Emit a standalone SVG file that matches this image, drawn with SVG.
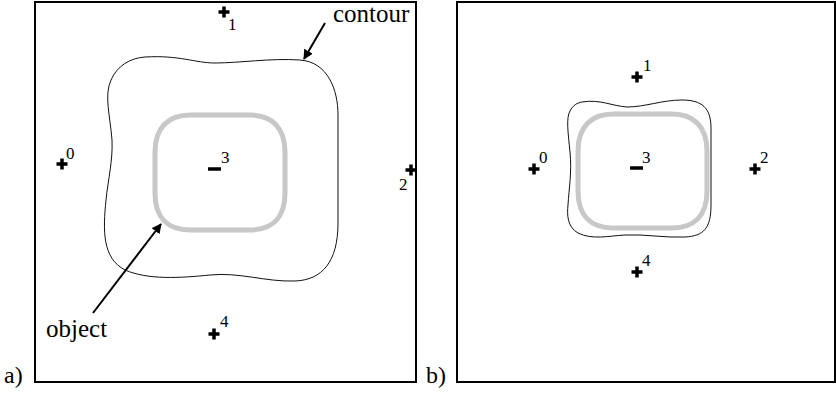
<svg xmlns="http://www.w3.org/2000/svg" width="836" height="393" viewBox="0 0 836 393">
<style>
.frame{fill:none;stroke:#000;stroke-width:2}
.contour{fill:none;stroke:#111;stroke-width:1}
.object{fill:none;stroke:#c8c8c8;stroke-width:5}
.pt{stroke:#000;stroke-width:3.5;fill:none}
.arrow{stroke:#000;stroke-width:2;fill:none}
</style>
<defs>
<marker id="ah" viewBox="0 0 10 10" refX="9" refY="5" markerWidth="5" markerHeight="5" orient="auto" markerUnits="strokeWidth">
<path d="M0,0 L10,5 L0,10 Z" fill="#000"/>
</marker>
<path id="plus" d="M-5.5,0 H5.5 M0,-5.5 V5.5"/>
</defs>
<rect width="836" height="393" fill="#fff"/>
<g font-family="'Liberation Serif', 'DejaVu Serif', 'Times New Roman', serif" fill="#000">
<g id="panel-a">
<rect class="frame" x="35" y="2" width="381" height="380"/>
<text font-size="24" x="4" y="383">a)</text>
<path id="contour-a" class="contour" d="M145,57 C180,55 195,63 215,63 C240,63 270,58 300,60 C328,62 338,90 338,115 L338,223 C338,262 322,280 295,281 C265,282 240,272 210,275 C180,278 148,280 125,270 C102,258 103,230 106,200 C108,180 113,160 112,140 C110,115 104,95 111,80 C117,66 130,58 145,57 Z"/>
<path id="object-a" class="object" d="M190,115 L250,115 C272,115 285,128 285,152 L285,193 C285,218 272,230 250,230 L190,230 C168,230 155,218 155,193 L155,152 C155,128 168,115 190,115 Z"/>
</g>
<g id="panel-b">
<rect class="frame" x="457" y="2" width="378" height="380"/>
<text font-size="24" x="426" y="383">b)</text>
<path id="contour-b" class="contour" d="M582,102 C600,99 612,106 627,107 C645,107 662,100 682,100 C702,100 711,108 711,128 L711,205 C711,228 704,236 685,237 C665,238 645,234 625,235 C608,236 592,240 578,233 C567,227 567,214 568,205 C569,188 572,172 570,152 C568,132 566,118 570,111 C573,105 577,103 582,102 Z"/>
<path id="object-b" class="object" d="M613,114 L672,114 C694,114 707,127 707,151 L707,191 C707,216 694,228 672,228 L613,228 C591,228 578,216 578,191 L578,151 C578,127 591,114 613,114 Z"/>
</g>
<g id="node-a0"><use href="#plus" class="pt" x="62" y="164"/><text font-size="17" x="66" y="159">0</text></g>
<g id="node-a1"><use href="#plus" class="pt" x="224" y="12"/><text font-size="17" x="228" y="30">1</text></g>
<g id="node-a2"><use href="#plus" class="pt" x="411" y="170"/><text font-size="17" x="399" y="190">2</text></g>
<g id="node-a3"><path class="pt" d="M208,169 H221"/><text font-size="17" x="221" y="163">3</text></g>
<g id="node-a4"><use href="#plus" class="pt" x="214" y="334"/><text font-size="17" x="220" y="327">4</text></g>
<g id="node-b0"><use href="#plus" class="pt" x="534" y="169"/><text font-size="17" x="539" y="163">0</text></g>
<g id="node-b1"><use href="#plus" class="pt" x="637" y="77"/><text font-size="17" x="643" y="71">1</text></g>
<g id="node-b2"><use href="#plus" class="pt" x="755" y="169"/><text font-size="17" x="760" y="163">2</text></g>
<g id="node-b3"><path class="pt" d="M630,168 H643"/><text font-size="17" x="642" y="163">3</text></g>
<g id="node-b4"><use href="#plus" class="pt" x="637" y="272"/><text font-size="17" x="642" y="266">4</text></g>
<g id="label-contour"><text font-size="25" x="333" y="22">contour</text></g>
<g id="label-object"><text font-size="25" x="46" y="337">object</text></g>
</g>
<g id="connectors">
<path class="arrow" d="M325,23 L304,59" marker-end="url(#ah)"/>
<path class="arrow" d="M93,313 L161,224" marker-end="url(#ah)"/>
</g>
</svg>
